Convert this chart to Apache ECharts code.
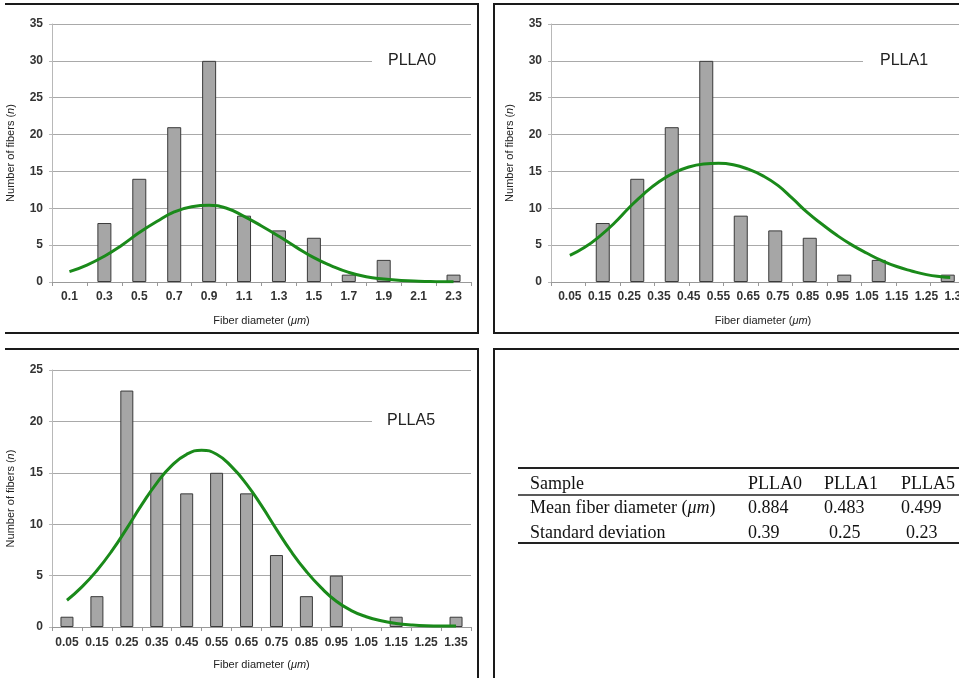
<!DOCTYPE html>
<html>
<head>
<meta charset="utf-8">
<script src="https://cdn.jsdelivr.net/npm/echarts@6/dist/echarts.min.js"></script>
<style>
html, body { margin: 0; padding: 0; background: #fff; }
#main { width: 959px; height: 678px; }
</style>
</head>
<body>
<div id="main"></div>
<script>
// PLLA0
var pl0Bins = ['0.1', '0.3', '0.5', '0.7', '0.9', '1.1', '1.3', '1.5', '1.7', '1.9', '2.1', '2.3'];
var pl0Counts = [0, 8, 14, 21, 30, 9, 7, 6, 1, 3, 0, 1];
var pl0Curve = [[0.1, 1.4], [0.2, 2.3], [0.3, 3.5], [0.4, 5.0], [0.5, 6.7], [0.6, 8.2], [0.7, 9.5],
  [0.8, 10.2], [0.9, 10.4], [1.0, 10.0], [1.1, 8.9], [1.2, 7.6], [1.3, 6.2], [1.4, 4.7], [1.5, 3.3],
  [1.6, 2.2], [1.7, 1.3], [1.8, 0.7], [1.9, 0.4], [2.0, 0.2], [2.1, 0.1], [2.2, 0.05], [2.3, 0.02]];

// PLLA1 (bars sit on their own slots, tick labels are spaced tighter)
var pl1Labels = ['0.05', '0.15', '0.25', '0.35', '0.45', '0.55', '0.65', '0.75', '0.85', '0.95', '1.05', '1.15', '1.25', '1.35'];
var pl1Counts = [0, 8, 14, 21, 30, 9, 7, 6, 1, 3, 0, 1];
var pl1Curve = [[0.05, 3.6], [0.10, 4.7], [0.15, 6.2], [0.20, 8.0], [0.25, 10.1], [0.30, 12.0], [0.35, 13.6],
  [0.40, 14.8], [0.45, 15.6], [0.50, 16.0], [0.55, 16.1], [0.60, 15.9], [0.65, 15.3], [0.70, 14.4],
  [0.75, 13.1], [0.80, 11.3], [0.85, 9.4], [0.90, 7.8], [0.95, 6.3], [1.00, 5.0], [1.05, 3.9],
  [1.10, 2.9], [1.15, 2.1], [1.20, 1.5], [1.25, 1.0], [1.30, 0.7], [1.33, 0.6]];

// PLLA5
var pl5Bins = ['0.05', '0.15', '0.25', '0.35', '0.45', '0.55', '0.65', '0.75', '0.85', '0.95', '1.05', '1.15', '1.25', '1.35'];
var pl5Counts = [1, 3, 23, 15, 13, 15, 13, 7, 3, 5, 0, 1, 0, 1];
var pl5Curve = [[0.05, 2.6], [0.10, 3.9], [0.15, 5.5], [0.20, 7.4], [0.25, 9.6], [0.30, 11.9], [0.35, 14.0],
  [0.40, 15.7], [0.45, 16.8], [0.50, 17.2], [0.55, 16.8], [0.60, 15.6], [0.65, 13.9], [0.70, 11.8],
  [0.75, 9.5], [0.80, 7.3], [0.85, 5.4], [0.90, 3.8], [0.95, 2.5], [1.00, 1.6], [1.05, 1.0],
  [1.10, 0.6], [1.15, 0.35], [1.20, 0.2], [1.25, 0.12], [1.30, 0.1], [1.35, 0.1]];

// table
var tableHead = ['Sample', 'PLLA0', 'PLLA1', 'PLLA5'];
var meanRow = ['Mean fiber diameter ({i|μm})', '0.884', '0.483', '0.499'];
var stdRow = ['Standard deviation', '0.39', '0.25', '0.23'];

var chart = echarts.init(document.getElementById('main'));

var FONT = 'Arial, "Liberation Sans", sans-serif';
var SERIF = '"Liberation Serif", "Times New Roman", serif';
var GREEN = '#1a8a1a';
var tickLabel = { color: '#333', fontSize: 12, fontWeight: 'bold', fontFamily: FONT };

function yAx(grid, max) {
  return {
    type: 'value', gridIndex: grid, min: 0, max: max, interval: 5,
    axisLine: { show: true, lineStyle: { color: '#b8b8b8' } },
    axisTick: { show: true, length: 3, lineStyle: { color: '#b8b8b8' } },
    axisLabel: Object.assign({ margin: 9 }, tickLabel),
    splitLine: { lineStyle: { color: '#a9a9a9', width: 1.2 } },
    name: 'Number of fibers ({i|n})', nameLocation: 'middle', nameGap: 36, nameRotate: 90,
    nameTextStyle: { color: '#222', fontSize: 11, fontFamily: FONT,
      rich: { i: { fontStyle: 'italic', fontSize: 11, color: '#222', fontFamily: FONT } } }
  };
}

function xCat(grid, data, opts) {
  var a = {
    type: 'category', gridIndex: grid, data: data,
    axisLine: { show: true, lineStyle: { color: '#999', width: 1 } },
    axisTick: { show: true, length: 4, lineStyle: { color: '#999' } },
    axisLabel: Object.assign({ interval: 0, margin: 9 }, tickLabel),
    name: '{a|Fiber diameter (}{i|μm}{a|)}', nameLocation: 'middle', nameGap: 33,
    nameTextStyle: { rich: {
      a: { fontSize: 11, color: '#222', fontFamily: FONT },
      i: { fontSize: 11, color: '#222', fontFamily: FONT, fontStyle: 'italic' } } }
  };
  return Object.assign(a, opts || {});
}

function xVal(grid, max) {
  return { type: 'value', gridIndex: grid, min: 0, max: max, show: false };
}

// empty bins get no outline, so nothing shows on the axis
function barSeries(x, y, counts, w) {
  return {
    type: 'bar', xAxisIndex: x, yAxisIndex: y, barWidth: w,
    data: counts.map(function (v) {
      return v === 0 ? { value: v, itemStyle: { borderWidth: 0, color: 'transparent' } } : v;
    }),
    itemStyle: { color: '#a6a6a6', borderColor: '#3a3a3a', borderWidth: 1 },
    silent: true
  };
}

function curveSeries(x, y, data) {
  return {
    type: 'line', xAxisIndex: x, yAxisIndex: y, data: data, smooth: true,
    showSymbol: false, lineStyle: { color: GREEN, width: 3 }, silent: true, z: 5
  };
}

function border(x1, y1, x2, y2) {
  return { type: 'line', z: 100, shape: { x1: x1, y1: y1, x2: x2, y2: y2 },
    style: { stroke: '#1a1a1a', lineWidth: 2 } };
}

function tag(text, x, y, coverX, coverW) {
  return [
    { type: 'rect', z: 90, shape: { x: coverX, y: y - 8, width: coverW, height: 16 }, style: { fill: '#fff' } },
    { type: 'text', z: 100, x: x, y: y,
      style: { text: text, fontSize: 16, fontFamily: FONT, fill: '#222', align: 'left', verticalAlign: 'middle' } }
  ];
}

// table graphics
var colX = [530, 748, 824, 901];
var stdShift = [0, 0, 5, 5];
var rowY = [484, 508, 533];
var tableEls = [
  { type: 'line', z: 100, shape: { x1: 518, y1: 468, x2: 960, y2: 468 }, style: { stroke: '#222', lineWidth: 2 } },
  { type: 'line', z: 100, shape: { x1: 518, y1: 495, x2: 960, y2: 495 }, style: { stroke: '#222', lineWidth: 1.6 } },
  { type: 'line', z: 100, shape: { x1: 518, y1: 543, x2: 960, y2: 543 }, style: { stroke: '#222', lineWidth: 2 } }
];
[tableHead, meanRow, stdRow].forEach(function (row, r) {
  row.forEach(function (cell, c) {
    tableEls.push({
      type: 'text', z: 100, x: colX[c] + (r === 2 ? stdShift[c] : 0), y: rowY[r],
      style: {
        text: cell, fontSize: 18, fontFamily: SERIF, fill: '#111', align: 'left', verticalAlign: 'middle',
        rich: { i: { fontStyle: 'italic', fontSize: 18, fontFamily: SERIF, fill: '#111' } }
      }
    });
  });
});

var option = {
  backgroundColor: '#fff',
  animation: false,
  grid: [
    { left: 52, top: 24, width: 419, height: 258, outerBoundsMode: 'none' },
    { left: 551, top: 24, width: 414, height: 258, outerBoundsMode: 'none' },
    { left: 555, top: 24, width: 416, height: 258, outerBoundsMode: 'none' },
    { left: 52, top: 370, width: 419, height: 257, outerBoundsMode: 'none' }
  ],
  xAxis: [
    xCat(0, pl0Bins),
    xVal(0, 2.4),
    xCat(1, pl1Counts.map(function (_, i) { return String(i); }), { axisLabel: { show: false }, name: '' }),
    xCat(2, pl1Labels, { axisLine: { show: false }, axisTick: { show: false } }),
    xVal(2, 1.4),
    xCat(3, pl5Bins, { axisLabel: Object.assign({ interval: 0, margin: 10 }, tickLabel), nameGap: 32 }),
    xVal(3, 1.4)
  ],
  yAxis: [
    yAx(0, 35),
    yAx(1, 35),
    { type: 'value', gridIndex: 2, min: 0, max: 35, show: false },
    yAx(3, 25)
  ],
  series: [
    barSeries(0, 0, pl0Counts, 14),
    curveSeries(1, 0, pl0Curve),
    barSeries(2, 1, pl1Counts, 14),
    curveSeries(4, 2, pl1Curve),
    barSeries(5, 3, pl5Counts, 13),
    curveSeries(6, 3, pl5Curve)
  ],
  graphic: [
    border(5, 4, 479, 4), border(478, 4, 478, 333), border(5, 333, 479, 333),
    border(494, 4, 494, 333), border(493, 4, 960, 4), border(493, 333, 960, 333),
    border(5, 349, 479, 349), border(478, 349, 478, 680),
    border(494, 349, 494, 680), border(493, 349, 960, 349)
  ].concat(
    tag('PLLA0', 388, 61, 372, 100),
    tag('PLLA1', 880, 61, 863, 97),
    tag('PLLA5', 387, 421, 372, 100),
    tableEls
  )
};

chart.setOption(option);
</script>
</body>
</html>
